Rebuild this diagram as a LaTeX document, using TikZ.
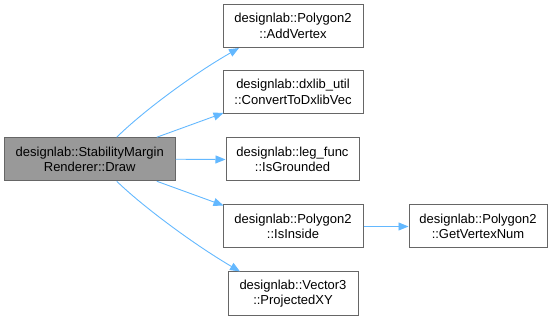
\documentclass[tikz,border=0pt]{standalone}
\usepackage{fontspec}
\setmainfont{Liberation Sans}
\usetikzlibrary{arrows.meta}
\definecolor{edgeblue}{HTML}{63B8FF}
\definecolor{boxline}{HTML}{666666}
\definecolor{mainfill}{HTML}{999999}
\tikzset{
  fn/.style={draw=boxline, line width=1pt, fill=white, align=center,
    inner sep=0pt, minimum height=43pt,
    font=\fontsize{13}{15.5}\selectfont},
  mainfn/.style={fn, fill=mainfill},
  call/.style={draw=edgeblue, line width=0.9pt,
    -{Triangle[length=10pt,width=8pt]}}
}
\begin{document}
\begin{tikzpicture}[x=1pt,y=-1pt]
\useasboundingbox (0,0) rectangle (554,320);
\node[mainfn, minimum width=170.5pt] (draw) at (89.75,159.25)
  {designlab::StabilityMargin\\Renderer::Draw};
\node[fn, minimum width=140pt] (addv) at (293,26)
  {designlab::Polygon2\\::AddVertex};
\node[fn, minimum width=140pt] (conv) at (293,92)
  {designlab::dxlib\_util\\::ConvertToDxlibVec};
\node[fn, minimum width=133pt] (grnd) at (292.5,159.5)
  {designlab::leg\_func\\::IsGrounded};
\node[fn, minimum width=140pt] (inside) at (293,226.5)
  {designlab::Polygon2\\::IsInside};
\node[fn, minimum width=130pt] (proj) at (293,293.5)
  {designlab::Vector3\\::ProjectedXY};
\node[fn, minimum width=138pt] (vnum) at (478,226.5)
  {designlab::Polygon2\\::GetVertexNum};

\draw[call] ([xshift=27pt]draw.north) .. controls (140,114) and (190,76) .. (addv.south west -| 239,0);
\draw[call] ([xshift=67pt]draw.north) -- ([xshift=1pt,yshift=1pt]conv.south west);
\draw[call] (draw.east) -- (grnd.west);
\draw[call] ([xshift=67pt]draw.south) -- ([xshift=1pt,yshift=-1pt]inside.north west);
\draw[call] ([xshift=27pt]draw.south) .. controls (140,204) and (190,242) .. (proj.north west -| 240,0);
\draw[call] (inside.east) -- (vnum.west);
\end{tikzpicture}
\end{document}
